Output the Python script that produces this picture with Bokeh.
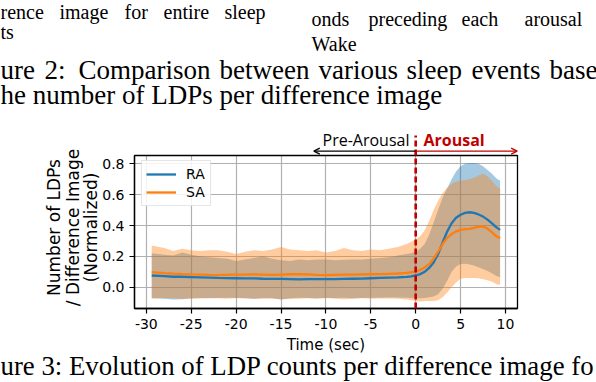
import math
from bokeh.plotting import figure
from bokeh.models import (Range1d, FixedTicker, Label, Arrow, OpenHead, Legend, LegendItem,
                          LinearAxis, Grid, BoxAnnotation)
from bokeh.embed import file_html
from bokeh.resources import INLINE

# ---------------- data ----------------
time_sec = [-29.4, -28, -27, -26, -25, -24, -23, -22, -21, -20, -19, -18, -17, -16, -15,
            -14, -13, -12, -11, -10, -9, -8, -7, -6, -5, -4, -3, -2, -1,
            -0.5, 0, 0.5, 1, 1.5, 2, 2.5, 3, 3.5, 4, 4.5, 5, 5.5, 6, 6.5, 7, 7.5, 8, 8.5, 9, 9.4]

ra_mean = [0.076, 0.072, 0.068, 0.068, 0.066, 0.064, 0.062, 0.060, 0.059, 0.058, 0.057, 0.057, 0.055, 0.054, 0.054,
           0.053, 0.051, 0.052, 0.052, 0.053, 0.053, 0.054, 0.055, 0.056, 0.058, 0.060, 0.062, 0.064, 0.067,
           0.070, 0.076, 0.085, 0.100, 0.125, 0.160, 0.215, 0.290, 0.360, 0.415, 0.450, 0.470, 0.482, 0.486, 0.482,
           0.472, 0.458, 0.438, 0.414, 0.388, 0.372]
ra_upper = [0.22, 0.21, 0.205, 0.225, 0.21, 0.20, 0.195, 0.19, 0.185, 0.17, 0.18, 0.19, 0.20, 0.185, 0.175,
            0.17, 0.18, 0.175, 0.18, 0.18, 0.175, 0.178, 0.18, 0.18, 0.185, 0.19, 0.195, 0.205, 0.215,
            0.22, 0.23, 0.25, 0.28, 0.34, 0.42, 0.50, 0.58, 0.64, 0.70, 0.75, 0.785, 0.80, 0.805, 0.805,
            0.80, 0.785, 0.76, 0.735, 0.705, 0.69]
ra_lower = [-0.07, -0.075, -0.08, -0.078, -0.072, -0.07, -0.072, -0.07, -0.068, -0.07, -0.072, -0.075, -0.07, -0.072, -0.08,
            -0.072, -0.068, -0.07, -0.072, -0.07, -0.07, -0.068, -0.072, -0.07, -0.068, -0.068, -0.066, -0.066, -0.068,
            -0.07, -0.072, -0.072, -0.07, -0.065, -0.06, -0.045, -0.01, 0.04, 0.10, 0.135, 0.15, 0.152, 0.148, 0.14,
            0.13, 0.118, 0.105, 0.09, 0.073, 0.065]

sa_mean = [0.098, 0.092, 0.088, 0.085, 0.083, 0.082, 0.080, 0.079, 0.080, 0.081, 0.082, 0.083, 0.082, 0.080, 0.082,
           0.084, 0.085, 0.083, 0.080, 0.078, 0.080, 0.082, 0.082, 0.083, 0.084, 0.085, 0.087, 0.089, 0.093,
           0.097, 0.102, 0.112, 0.128, 0.150, 0.185, 0.230, 0.280, 0.320, 0.345, 0.362, 0.372, 0.376, 0.378, 0.385,
           0.392, 0.394, 0.380, 0.355, 0.330, 0.318]
sa_upper = [0.27, 0.255, 0.235, 0.25, 0.24, 0.235, 0.24, 0.24, 0.23, 0.215, 0.23, 0.24, 0.235, 0.245, 0.26,
            0.245, 0.24, 0.235, 0.24, 0.225, 0.235, 0.255, 0.24, 0.235, 0.245, 0.24, 0.25, 0.26, 0.28,
            0.295, 0.31, 0.33, 0.37, 0.43, 0.50, 0.56, 0.61, 0.645, 0.67, 0.685, 0.69, 0.695, 0.70, 0.71,
            0.725, 0.735, 0.72, 0.69, 0.655, 0.64]
sa_lower = [-0.075, -0.07, -0.072, -0.074, -0.075, -0.073, -0.07, -0.072, -0.074, -0.07, -0.072, -0.074, -0.075, -0.073, -0.078,
            -0.076, -0.074, -0.072, -0.074, -0.07, -0.074, -0.078, -0.074, -0.072, -0.074, -0.073, -0.073, -0.075, -0.08,
            -0.085, -0.09, -0.092, -0.09, -0.09, -0.09, -0.085, -0.065, -0.035, 0.0, 0.03, 0.055, 0.06, 0.06, 0.06,
            0.058, 0.052, 0.045, 0.035, 0.02, 0.015]

series_names = ["RA", "SA"]
x_ticks = [-30, -25, -20, -15, -10, -5, 0, 5, 10]
x_tick_labels = ["-30", "-25", "-20", "-15", "-10", "-5", "0", "5", "10"]
y_ticks = [0.0, 0.2, 0.4, 0.6, 0.8]
y_tick_labels = ["0.0", "0.2", "0.4", "0.6", "0.8"]

y_label_lines = ["Number of LDPs", "/ Difference Image", "(Normalized)"]
x_label = "Time (sec)"
pre_text = "Pre-Arousal"
arousal_text = "Arousal"

# axes box limits (data)
BX0, BX1 = -31.32, 11.34
BY0, BY1 = -0.138, 0.854

# ---------------- layout ----------------
W, H = 596, 382
FL, FR, FT, FB = 134, 517, 155, 308   # axes box in canvas pixels

def dx(cx):
    return BX0 + (cx - FL) * (BX1 - BX0) / (FR - FL)

def dy(cy):
    return BY1 - (cy - FT) * (BY1 - BY0) / (FB - FT)

BLUE = "#1f77b4"
ORANGE = "#ff7f0e"
RED = "#c00000"

p = figure(width=W, height=H, x_range=Range1d(dx(0), dx(W)), y_range=Range1d(dy(H), dy(0)),
           x_axis_type=None, y_axis_type=None,
           output_backend="svg", toolbar_location=None, min_border=0)
p.background_fill_color = "white"
p.border_fill_color = "white"
p.outline_line_color = None

# grid limited to the axes box
p.add_layout(Grid(dimension=0, ticker=FixedTicker(ticks=x_ticks), cross_bounds=(BY0, BY1),
                  grid_line_color="#b0b0b0", grid_line_width=1.2))
p.add_layout(Grid(dimension=1, ticker=FixedTicker(ticks=y_ticks), cross_bounds=(BX0, BX1),
                  grid_line_color="#b0b0b0", grid_line_width=1.2))

# bands then lines
p.varea(x=time_sec, y1=ra_lower, y2=ra_upper, fill_color=BLUE, fill_alpha=0.4)
p.varea(x=time_sec, y1=sa_lower, y2=sa_upper, fill_color=ORANGE, fill_alpha=0.4)
ra_line = p.line(time_sec, ra_mean, line_color=BLUE, line_width=2.3)
sa_line = p.line(time_sec, sa_mean, line_color=ORANGE, line_width=2.3)

# axes drawn at the box edges
xaxis = LinearAxis(fixed_location=BY0, bounds=(BX0, BX1), ticker=FixedTicker(ticks=x_ticks))
yaxis = LinearAxis(fixed_location=BX0, bounds=(BY0, BY1), ticker=FixedTicker(ticks=y_ticks))
xaxis.major_label_overrides = dict(zip(x_ticks, x_tick_labels))
yaxis.major_label_overrides = dict(zip(y_ticks, y_tick_labels))
for ax in (xaxis, yaxis):
    ax.axis_line_color = "black"
    ax.axis_line_width = 1.3
    ax.major_tick_line_color = "black"
    ax.major_tick_line_width = 1.2
    ax.major_tick_in = 0
    ax.major_tick_out = 5
    ax.minor_tick_line_color = None
    ax.major_label_text_font = "DejaVu Sans"
    ax.major_label_text_font_size = "14px"
    ax.major_label_text_color = "black"
    ax.major_label_standoff = 5
xaxis.axis_label = x_label
xaxis.axis_label_text_font = "DejaVu Sans"
xaxis.axis_label_text_font_size = "15px"
xaxis.axis_label_text_font_style = "normal"
xaxis.axis_label_text_color = "black"
xaxis.axis_label_standoff = 4
p.add_layout(xaxis, "below")
p.add_layout(yaxis, "left")

# axes box outline
p.add_layout(BoxAnnotation(left=BX0, right=BX1, bottom=BY0, top=BY1, fill_alpha=0,
                           line_color="black", line_width=1.3, line_alpha=1))

# legend
legend = Legend(items=[LegendItem(label=series_names[0], renderers=[ra_line]),
                       LegendItem(label=series_names[1], renderers=[sa_line])],
                location=(141, H - (162 + 44)), padding=4, spacing=0,
                glyph_width=30, glyph_height=18, label_height=18, label_standoff=10,
                label_text_font="DejaVu Sans", label_text_font_size="14px",
                label_text_color="black",
                border_line_color="#cccccc", border_line_width=1,
                background_fill_color="white", background_fill_alpha=0.85)
p.add_layout(legend)

# y axis label (three lines, rotated)
for cx, txt in zip([53, 72, 90], y_label_lines):
    p.add_layout(Label(x=dx(cx), y=dy(227), text=txt, angle=math.pi / 2,
                       text_font="DejaVu Sans", text_font_size="17px", text_color="black",
                       text_align="center", text_baseline="middle"))

# text placed by its baseline (Bokeh centres text on the given y for "middle")
def text_at(txt, cx, base, size, font, color="black", style="normal", k=0.34):
    p.add_layout(Label(x=dx(cx), y=dy(base - k * size), text=txt, text_font=font,
                       text_font_size=f"{size}px", text_color=color, text_font_style=style,
                       text_align="left", text_baseline="middle"))

# arousal marker
p.add_layout(Arrow(x_start=0, y_start=BY0, x_end=0, y_end=dy(135), end=None,
                   line_color=RED, line_width=2.6, line_dash="6 3"))
p.add_layout(Arrow(x_start=0, y_start=dy(150.7), x_end=dx(313.3), y_end=dy(150.7),
                   end=OpenHead(size=6, line_color="black", line_width=1.3),
                   line_color="black", line_width=1.3))
p.add_layout(Arrow(x_start=0, y_start=dy(150.7), x_end=dx(516.7), y_end=dy(150.7),
                   end=OpenHead(size=6, line_color=RED, line_width=1.3),
                   line_color=RED, line_width=1.3))
text_at(pre_text, 322, 146, 16, "Open Sans", k=0.388)
text_at(arousal_text, 423, 146, 16, "Open Sans", color=RED, style="bold", k=0.388)

# surrounding paper text
SERIF = "Liberation Serif"
for word, cx in zip(["rence", "image", "for", "entire", "sleep"], [0, 59, 124, 163, 224]):
    text_at(word, cx, 18.5, 20, SERIF)
text_at("ts", 0, 38, 20, SERIF)
for word, cx in zip(["onds", "preceding", "each", "arousal"], [311, 368, 461, 524]):
    text_at(word, cx, 25, 20, SERIF)
text_at("Wake", 311, 50, 20, SERIF)
for word, cx in zip(["ure", "2:", "Comparison", "between", "various", "sleep", "events", "base"],
                    [0, 44, 78, 219, 318, 406, 471, 549]):
    text_at(word, cx, 79, 27, SERIF)
text_at("he number of LDPs per difference image", 0, 104, 27, SERIF)
text_at("ure 3: Evolution of LDP counts per difference image fo", 0, 375, 26.8, SERIF)

open("out.html", "w").write(file_html(p, INLINE))
